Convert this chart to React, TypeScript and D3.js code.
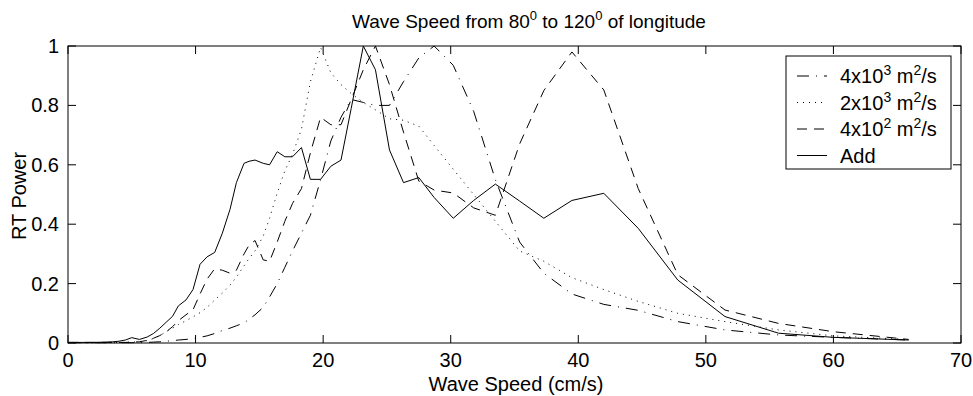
import React from "react";
import * as d3 from "d3";

// Wave speed grid (cm/s)
const speeds = [0, 1, 2, 3, 3.5, 4, 4.5, 5.0, 5.6, 6.2, 6.7, 7.2, 7.7, 8.2, 8.65, 9.25, 9.8, 10.35, 10.9, 11.5, 12.1, 12.7, 13.2, 13.8, 14.2, 14.66, 15.3, 15.8, 16.4, 17.0, 17.6, 18.3, 19.0, 19.8, 20.6, 21.4, 22.2, 23.15, 24.1, 25.2, 26.3, 27.5, 28.7, 30.2, 31.8, 33.5, 35.4, 37.3, 39.5, 42.0, 44.7, 47.8, 51.5, 55.7, 60.0, 65.9];

// 4x10^3 m^2/s (dash-dot)
const diff4e3 = [0.001, 0.001, 0.001, 0.001, 0.001, 0.001, 0.001, 0.001, 0.002, 0.002, 0.003, 0.004, 0.006, 0.008, 0.01, 0.012, 0.015, 0.019, 0.024, 0.032, 0.042, 0.05, 0.058, 0.068, 0.08, 0.095, 0.12, 0.155, 0.2, 0.255, 0.31, 0.37, 0.43, 0.55, 0.68, 0.76, 0.82, 0.81, 0.8, 0.8, 0.88, 0.96, 1.0, 0.935, 0.78, 0.55, 0.34, 0.235, 0.165, 0.13, 0.11, 0.072, 0.044, 0.027, 0.019, 0.01];

// 2x10^3 m^2/s (dotted)
const diff2e3 = [0.001, 0.001, 0.001, 0.001, 0.001, 0.002, 0.002, 0.003, 0.004, 0.008, 0.015, 0.025, 0.038, 0.05, 0.062, 0.075, 0.088, 0.102, 0.12, 0.145, 0.168, 0.195, 0.222, 0.26, 0.285, 0.31, 0.36, 0.42, 0.505, 0.58, 0.635, 0.72, 0.88, 0.995, 0.91, 0.87, 0.84, 0.81, 0.785, 0.755, 0.75, 0.73, 0.665, 0.585, 0.5, 0.41, 0.31, 0.275, 0.22, 0.18, 0.14, 0.1, 0.072, 0.044, 0.024, 0.012];

// 4x10^2 m^2/s (dashed)
const diff4e2 = [0.002, 0.002, 0.002, 0.002, 0.002, 0.002, 0.002, 0.003, 0.004, 0.009, 0.016, 0.025, 0.038, 0.055, 0.075, 0.095, 0.112, 0.165, 0.215, 0.25, 0.245, 0.235, 0.245, 0.3, 0.33, 0.345, 0.28, 0.275, 0.34, 0.41, 0.47, 0.52, 0.64, 0.76, 0.735, 0.735, 0.82, 0.92, 1.0, 0.87, 0.71, 0.545, 0.515, 0.505, 0.455, 0.43, 0.67, 0.85, 0.98, 0.852, 0.52, 0.23, 0.111, 0.066, 0.038, 0.012];

// Add (solid)
const addPower = [0.002, 0.002, 0.002, 0.003, 0.004, 0.006, 0.01, 0.018, 0.012, 0.02, 0.032, 0.05, 0.07, 0.09, 0.125, 0.145, 0.18, 0.265, 0.29, 0.305, 0.37, 0.45, 0.54, 0.605, 0.612, 0.616, 0.605, 0.6, 0.644, 0.627, 0.627, 0.658, 0.551, 0.551, 0.595, 0.616, 0.79, 1.0, 0.92, 0.65, 0.54, 0.557, 0.49, 0.42, 0.48, 0.535, 0.478, 0.42, 0.48, 0.504, 0.386, 0.212, 0.089, 0.033, 0.019, 0.01];

const xTicks = [0, 10, 20, 30, 40, 50, 60, 70];
const yTicks = [0, 0.2, 0.4, 0.6, 0.8, 1];

const series = [
  { name: "4x10", exp: "3", values: diff4e3, dash: "12 7 1 7" },
  { name: "2x10", exp: "3", values: diff2e3, dash: "1 5" },
  { name: "4x10", exp: "2", values: diff4e2, dash: "10 7" },
  { name: "Add", exp: null, values: addPower, dash: null },
];

const FONT = "'Liberation Sans', Arial, Helvetica, sans-serif";

export default function App() {
  const W = 973, H = 396;
  const left = 68, right = 961, top = 46, bottom = 343;
  const x = d3.scaleLinear().domain([0, 70]).range([left, right]);
  const y = d3.scaleLinear().domain([0, 1]).range([bottom, top]);
  const line = d3.line<number>().x((_, i) => x(speeds[i])).y((d) => y(d));
  const tick = 8;
  const fs = 20;
  const sup = 14;

  const legX = 786, legY = 56, legW = 165, legH = 113;
  const rowY = (i: number) => legY + 20 + i * 26.5;

  return (
    <svg width={W} height={H} style={{ position: "absolute", left: 0, top: 0, background: "#fff" }} fontFamily={FONT}>
      <rect x={0} y={0} width={W} height={H} fill="#fff" />
      {/* data lines */}
      <g fill="none" stroke="#000" strokeWidth={1}>
        {series.map((s, i) => (
          <path key={i} d={line(s.values) || ""} strokeDasharray={s.dash || undefined} />
        ))}
      </g>
      {/* axes box */}
      <rect x={left} y={top} width={right - left} height={bottom - top} fill="none" stroke="#000" strokeWidth={1} />
      <g stroke="#000" strokeWidth={1}>
        {xTicks.map((t) => (
          <g key={"xt" + t}>
            <line x1={x(t)} x2={x(t)} y1={bottom} y2={bottom - tick} />
            <line x1={x(t)} x2={x(t)} y1={top} y2={top + tick} />
          </g>
        ))}
        {yTicks.map((t) => (
          <g key={"yt" + t}>
            <line x1={left} x2={left + tick} y1={y(t)} y2={y(t)} />
            <line x1={right} x2={right - tick} y1={y(t)} y2={y(t)} />
          </g>
        ))}
      </g>
      <g fontSize={fs} fill="#000">
        {xTicks.map((t) => (
          <text key={"xl" + t} x={x(t)} y={367} textAnchor="middle">{t}</text>
        ))}
        {yTicks.map((t) => (
          <text key={"yl" + t} x={59} y={y(t) + 7} textAnchor="end">{t}</text>
        ))}
        <text x={516} y={391} textAnchor="middle">Wave Speed (cm/s)</text>
        <text transform={`translate(26,196) rotate(-90)`} textAnchor="middle">RT Power</text>
        <text x={529} y={28} textAnchor="middle" fontSize={19}>
          Wave Speed from 80<tspan dy={-8} fontSize={13}>0</tspan>
          <tspan dy={8}> to 120</tspan><tspan dy={-8} fontSize={13}>0</tspan>
          <tspan dy={8}> of longitude</tspan>
        </text>
      </g>
      {/* legend */}
      <rect x={legX} y={legY} width={legW} height={legH} fill="#fff" stroke="#000" strokeWidth={1} />
      {series.map((s, i) => (
        <g key={"lg" + i}>
          <line x1={797} x2={827} y1={rowY(i)} y2={rowY(i)} stroke="#000" strokeWidth={1} strokeDasharray={s.dash || undefined} />
          <text x={840} y={rowY(i) + 7} fontSize={fs} fill="#000">
            {s.exp ? (
              <>
                {s.name}<tspan dy={-8} fontSize={sup}>{s.exp}</tspan>
                <tspan dy={8}> m</tspan><tspan dy={-8} fontSize={sup}>2</tspan>
                <tspan dy={8}>/s</tspan>
              </>
            ) : s.name}
          </text>
        </g>
      ))}
    </svg>
  );
}
